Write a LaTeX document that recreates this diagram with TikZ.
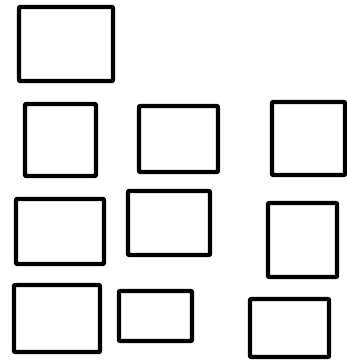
\documentclass[tikz,border=0pt]{standalone}
\usetikzlibrary{positioning}
\tikzset{
  frame/.style={draw=black,line width=4.2pt,line join=round,rounded corners=0.8pt}
}
\begin{document}
\begin{tikzpicture}[x=1pt,y=-1pt]
\useasboundingbox (0,0) rectangle (347,361);
% top row
\draw[frame] (19,7) rectangle (113,81);
% second row
\draw[frame] (25,104) rectangle (96,176);
\draw[frame] (139,106) rectangle (218,172);
\draw[frame] (272,102) rectangle (345,175);
% third row
\draw[frame] (16,199) rectangle (104,264);
\draw[frame] (128,191) rectangle (210,255);
\draw[frame] (268,203) rectangle (337,277);
% bottom row
\draw[frame] (14,285) rectangle (100,352);
\draw[frame] (119,291) rectangle (192,341);
\draw[frame] (250,299) rectangle (329,357);
\end{tikzpicture}
\end{document}
